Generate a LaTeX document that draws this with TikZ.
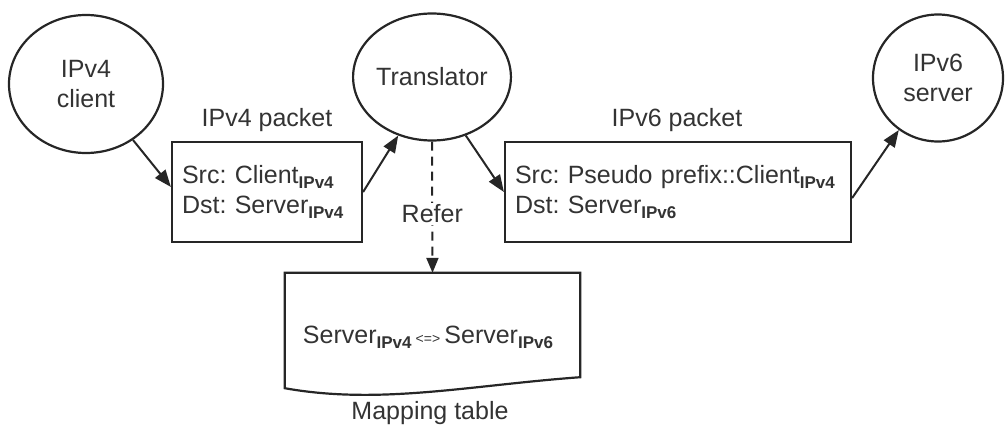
\documentclass[tikz,border=0pt]{standalone}
\usepackage{fontspec}
\setmainfont{Liberation Sans}
\usetikzlibrary{arrows.meta,shapes.geometric,calc}
\newcommand{\ipsub}[1]{\raisebox{-5pt}{\fontsize{17}{17}\selectfont\bfseries #1}}
\frenchspacing
\begin{document}
\begin{tikzpicture}[x=1pt,y=-1pt,
  every node/.style={font=\fontsize{25}{30}\selectfont, text=black!80},
  hostnode/.style={ellipse, draw=black!85, line width=2.2pt, inner sep=0pt, align=center},
  packetbox/.style={rectangle, draw=black!85, line width=2.2pt, minimum height=100pt, inner sep=10pt, align=left},
  conn/.style={-{Triangle[length=17pt,width=13pt]}, line width=2pt, draw=black!85},
  refconn/.style={-{Triangle[length=15pt,width=12pt]}, line width=2pt, draw=black!85, dash pattern=on 9pt off 6pt},
  lbl/.style={inner sep=1pt}
]
\useasboundingbox (0,0) rectangle (1008,429);

% hosts
\node[hostnode, minimum width=154pt, minimum height=138pt] (client) at (86,84) {IPv4\\client};
\node[hostnode, minimum width=130pt, minimum height=127pt] (tr) at (432,77) {Translator};
\node[hostnode, minimum width=130pt, minimum height=127pt] (sv) at (938,78) {IPv6\\server};

% packets
\node[packetbox, text width=170pt] (b4) at (267,192)
  {Src: Client\ipsub{IPv4}\\Dst: Server\ipsub{IPv4}};
\node[lbl] (b4l) at (267,120) {IPv4 packet};

\node[packetbox, text width=326pt] (b6) at (678,192)
  {Src: Pseudo prefix::Client\ipsub{IPv4}\\Dst: Server\ipsub{IPv6}};
\node[lbl] (b6l) at (677,120) {IPv6 packet};

% mapping table
\node[minimum width=295pt, minimum height=104pt, inner sep=0pt] (tab) at (432.5,325) {};
\draw[line width=2.2pt, draw=black!85]
  (tab.north west) -- (tab.north east) -- (tab.south east)
  .. controls ($(tab.south east)+(-110,8)$) and ($(tab.south west)+(95,28)$) ..
  ($(tab.south west)+(0,11)$) -- cycle;
\node[lbl] (tabtext) at (428,337)
  {Server\ipsub{IPv4}\,{\fontsize{14}{14}\selectfont <=>}\,Server\ipsub{IPv6}};
\node[lbl] (tabl) at (430,413) {Mapping table};

% connectors
\draw[conn] (client.-50) -- (b4.177);
\draw[conn] (b4.east) -- (tr.-120);
\draw[conn] (tr.-60) -- (b6.west);
\draw[conn] (b6.-2) -- (sv.-127);
\draw[refconn] (tr.south) -- (tab.north)
  node[pos=0.55, fill=white, inner sep=2pt] (refer) {Refer};
\end{tikzpicture}
\end{document}
